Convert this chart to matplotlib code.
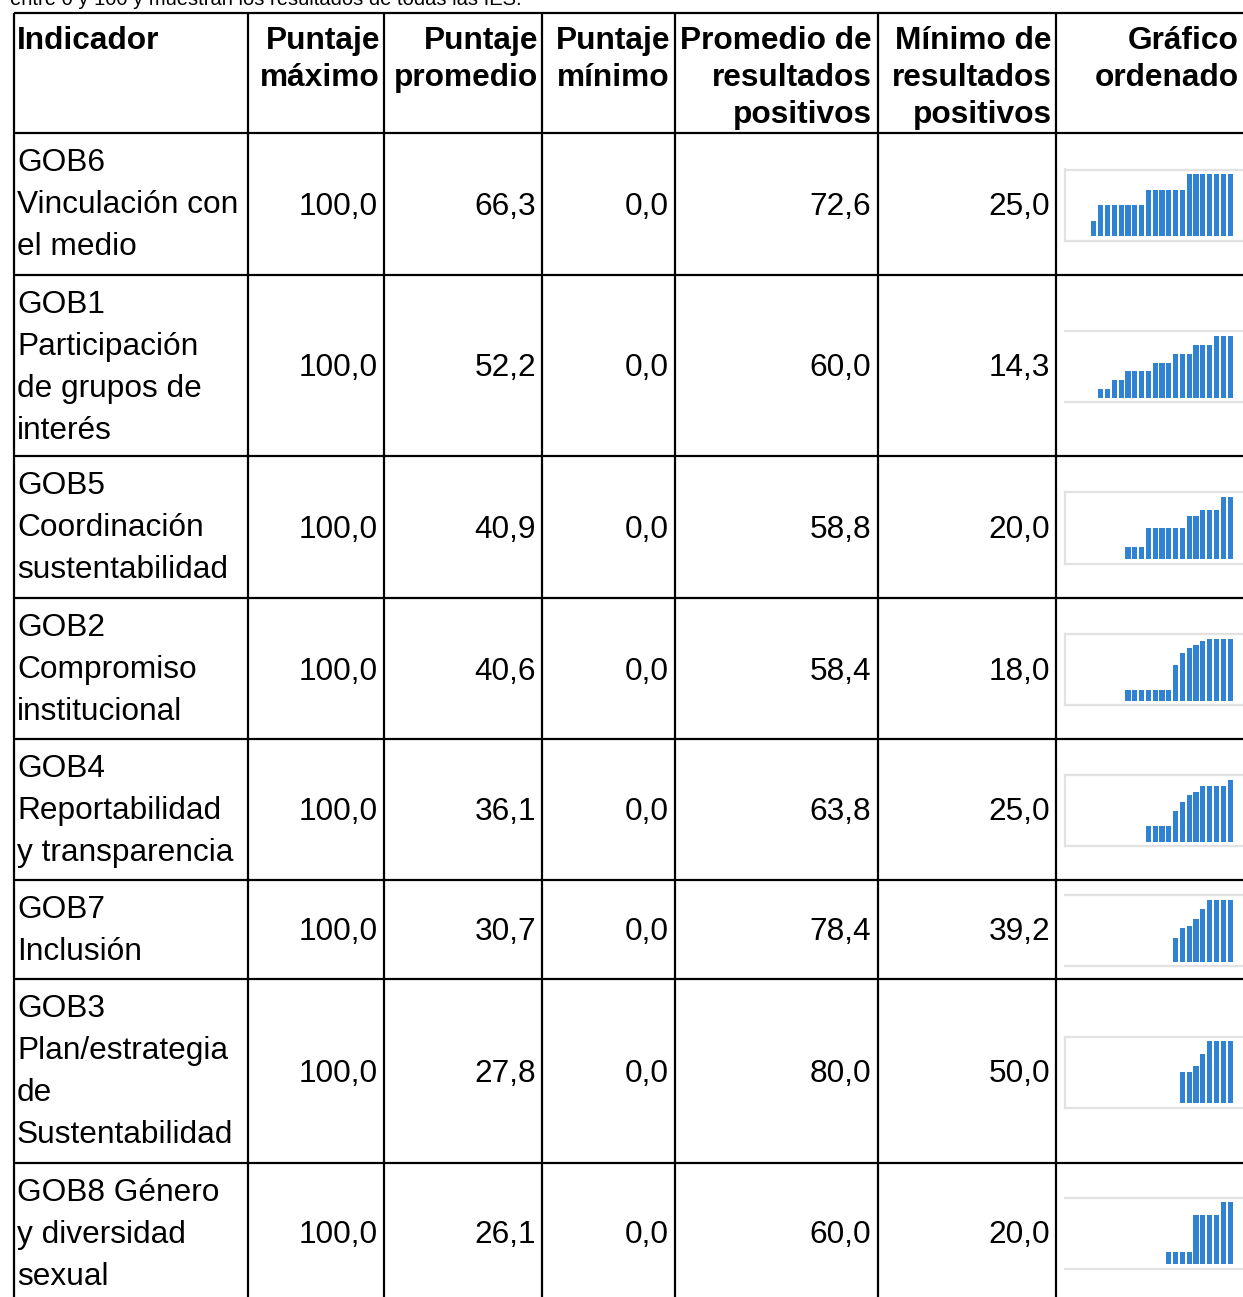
import matplotlib
matplotlib.use("Agg")
import matplotlib.pyplot as plt

plt.rcParams['font.family'] = ['Liberation Sans', 'DejaVu Sans']

# ---------------- data ----------------
indicadores = [
    ["GOB6", "Vinculación con", "el medio"],
    ["GOB1", "Participación", "de grupos de", "interés"],
    ["GOB5", "Coordinación", "sustentabilidad"],
    ["GOB2", "Compromiso", "institucional"],
    ["GOB4", "Reportabilidad", "y transparencia"],
    ["GOB7", "Inclusión"],
    ["GOB3", "Plan/estrategia", "de", "Sustentabilidad"],
    ["GOB8 Género", "y diversidad", "sexual"],
]
puntaje_maximo = [100.0, 100.0, 100.0, 100.0, 100.0, 100.0, 100.0, 100.0]
puntaje_promedio = [66.3, 52.2, 40.9, 40.6, 36.1, 30.7, 27.8, 26.1]
puntaje_minimo = [0.0, 0.0, 0.0, 0.0, 0.0, 0.0, 0.0, 0.0]
promedio_positivos = [72.6, 60.0, 58.8, 58.4, 63.8, 78.4, 80.0, 60.0]
minimo_positivos = [25.0, 14.3, 20.0, 18.0, 25.0, 39.2, 50.0, 20.0]

# sorted results of every IES (sparklines)
gob6 = [0, 0, 25, 50, 50, 50, 50, 50, 50, 50, 75, 75, 75, 75, 75, 75,
        100, 100, 100, 100, 100, 100, 100]
gob1 = [0, 0, 0, 14.3, 14.3, 28.6, 28.6, 42.9, 42.9, 42.9, 42.9, 57.1, 57.1,
        57.1, 71.4, 71.4, 71.4, 85.7, 85.7, 85.7, 100, 100, 100]
gob5 = [0, 0, 0, 0, 0, 0, 0, 20, 20, 20, 50, 50, 50, 50, 50, 50, 70, 70,
        80, 80, 80, 100, 100]
gob2 = [0, 0, 0, 0, 0, 0, 0, 18, 18, 18, 18, 18, 18, 18, 58, 77, 85, 91,
        97, 100, 100, 100, 100]
gob4 = [0, 0, 0, 0, 0, 0, 0, 0, 0, 0, 25, 25, 25, 25, 50, 65, 75, 80, 90,
        90, 90, 90, 100]
gob7 = [0, 0, 0, 0, 0, 0, 0, 0, 0, 0, 0, 0, 0, 0, 39.2, 54, 58, 69, 85.4,
        100, 100, 100, 100]
gob3 = [0, 0, 0, 0, 0, 0, 0, 0, 0, 0, 0, 0, 0, 0, 0, 50, 50, 60, 80, 100,
        100, 100, 100]
gob8 = [0, 0, 0, 0, 0, 0, 0, 0, 0, 0, 0, 0, 0, 20, 20, 20, 20, 80, 80, 80,
        80, 100, 100]
sparklines = [gob6, gob1, gob5, gob2, gob4, gob7, gob3, gob8]

encabezados = [
    ["Indicador"],
    ["Puntaje", "máximo"],
    ["Puntaje", "promedio"],
    ["Puntaje", "mínimo"],
    ["Promedio de", "resultados", "positivos"],
    ["Mínimo de", "resultados", "positivos"],
    ["Gráfico", "ordenado"],
]
intro = "entre 0 y 100 y muestran los resultados de todas las IES."

# ---------------- layout ----------------
W, H = 1243, 1297
fig = plt.figure(figsize=(W / 100, H / 100), dpi=100)
ax = fig.add_axes([0, 0, 1, 1])
ax.set_xlim(0, W)
ax.set_ylim(H, 0)
ax.axis('off')

FS = 22.8          # body / header font size (pt)
CAP = 11           # half cap height in px
col_x = [14, 248, 384, 542, 675, 878, 1056]
row_y = [13, 133, 275, 456, 598, 739, 880, 979, 1163, 1301]
lw = 1.6

for y in row_y[:-1]:
    ax.plot([col_x[0], W], [y, y], color='black', lw=lw, solid_capstyle='butt')
for x in col_x:
    ax.plot([x, x], [row_y[0], H], color='black', lw=lw, solid_capstyle='butt')

ax.text(10, 5, intro, fontsize=14.5, ha='left', va='baseline')

# header
head_right = [None, 380, 538, 670, 872, 1052, 1239]
for c, lines in enumerate(encabezados):
    for k, t in enumerate(lines):
        yb = 38 + 37 * k + CAP
        if c == 0:
            ax.text(17, yb, t, fontsize=FS, fontweight='bold', ha='left', va='baseline')
        else:
            ax.text(head_right[c], yb, t, fontsize=FS, fontweight='bold',
                    ha='right', va='baseline')

def fmt(v):
    return f"{v:.1f}".replace('.', ',')

num_right = [378, 536, 669, 871, 1050]
left_spine = [True, False, True, True, True, False, True, False]

for r in range(8):
    top, bot = row_y[r + 1], row_y[r + 2]
    for k, t in enumerate(indicadores[r]):
        ax.text(17, top + 27 + 42 * k + CAP, t, fontsize=FS, ha='left', va='baseline')
    mid = (top + bot) / 2 + CAP
    vals = [puntaje_maximo[r], puntaje_promedio[r], puntaje_minimo[r],
            promedio_positivos[r], minimo_positivos[r]]
    for xr, v in zip(num_right, vals):
        ax.text(xr, mid, fmt(v), fontsize=FS, ha='right', va='baseline')

    # sparkline
    sh = 71
    sc = (top + bot) / 2 + 1
    yt = sc - sh / 2
    sax = fig.add_axes([1065 / W, 1 - (yt + sh) / H, 177 / W, sh / H])
    data = sparklines[r]
    sax.bar(range(len(data)), data, width=0.74, color='#3082d4', edgecolor='none')
    sax.set_xlim(-2.26, 23.76)
    sax.set_ylim(-6.5, 108)
    sax.set_xticks([])
    sax.set_yticks([])
    sax.patch.set_alpha(0)
    for s in ['top', 'bottom', 'left']:
        sax.spines[s].set_color('#e2e2e2')
        sax.spines[s].set_linewidth(1.6)
    sax.spines['right'].set_visible(False)
    sax.spines['left'].set_visible(left_spine[r])

fig.savefig('out.png', dpi=100)
